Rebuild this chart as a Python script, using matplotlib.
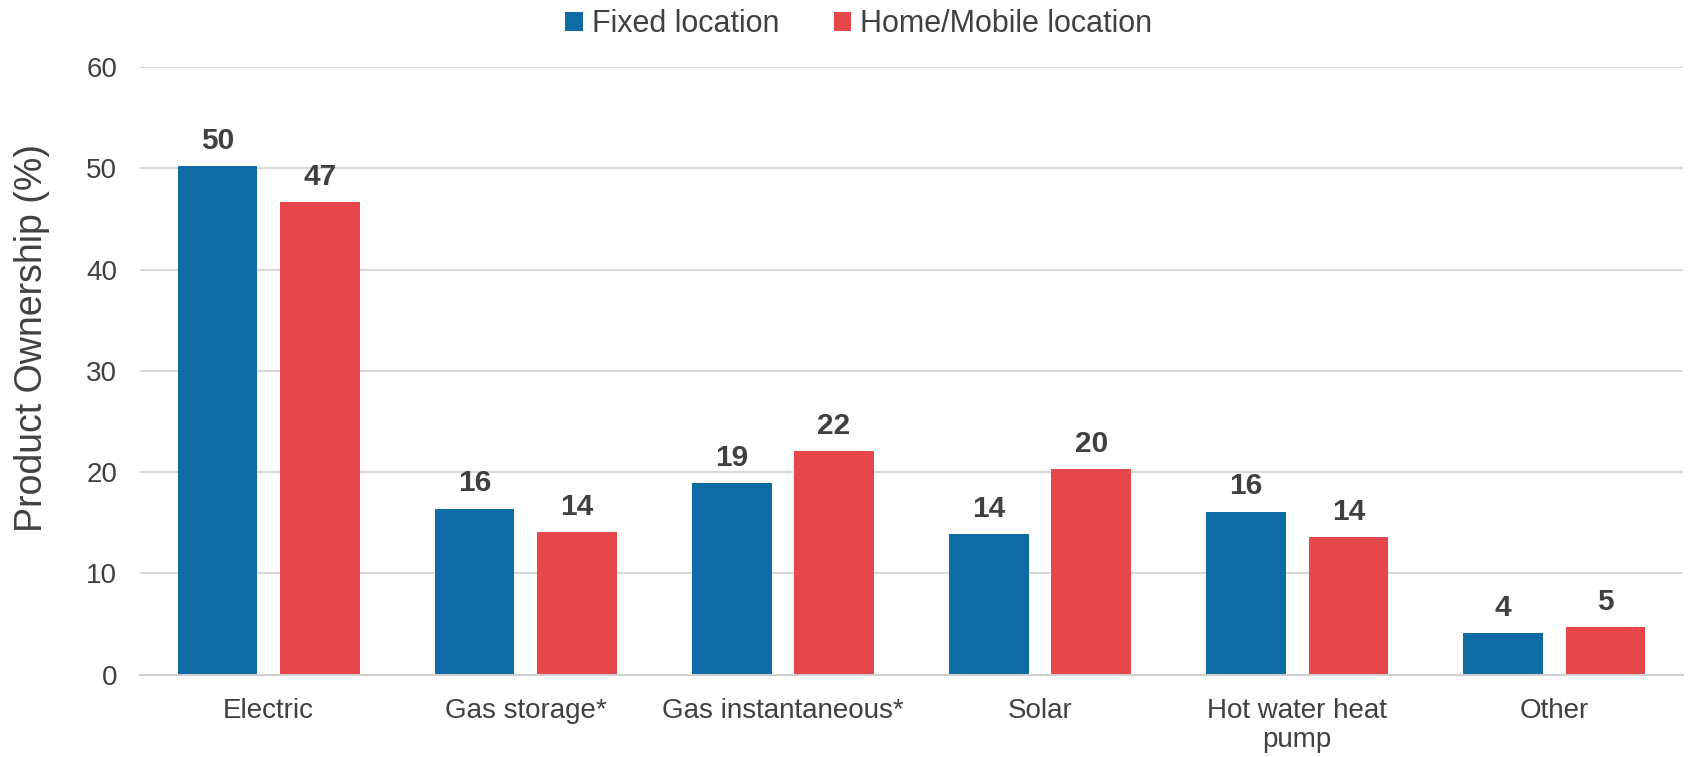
import matplotlib
matplotlib.use("Agg")
import matplotlib.pyplot as plt
import numpy as np

categories = ["Electric", "Gas storage*", "Gas instantaneous*", "Solar",
              "Hot water heat\npump", "Other"]
fixed_location = [50.2, 16.4, 18.9, 13.9, 16.1, 4.1]
home_mobile_location = [46.7, 14.1, 22.1, 20.3, 13.6, 4.7]
series_names = ["Fixed location", "Home/Mobile location"]
yticks = [0, 10, 20, 30, 40, 50, 60]

plt.rcParams['font.family'] = ['Liberation Sans', 'DejaVu Sans']
TEXT = "#404040"
BLUE = "#0E6BA3"
RED = "#E5474A"

fig = plt.figure(figsize=(16.92, 7.57), dpi=100)
ax = fig.add_axes([140/1692, 1-674.6/757, (1683-140)/1692, (674.6-67)/757])

x = np.arange(len(categories))
w = 0.31
off = 0.199
b1 = ax.bar(x - off, fixed_location, w, color=BLUE, label=series_names[0], zorder=3)
b2 = ax.bar(x + off, home_mobile_location, w, color=RED, label=series_names[1], zorder=3)

for bars, vals in ((b1, fixed_location), (b2, home_mobile_location)):
    for r, v in zip(bars, vals):
        ax.annotate(f"{round(v):d}", (r.get_x() + r.get_width()/2, v),
                    xytext=(0, 8), textcoords="offset points",
                    ha="center", va="bottom", fontsize=21.5, fontweight="bold", color=TEXT)

ax.set_xlim(-0.5, len(categories) - 0.5)
ax.set_ylim(0, 60)
ax.set_yticks(yticks)
ax.set_xticks(x)
ax.set_xticklabels(categories, fontsize=20, color=TEXT, linespacing=1.15)
ax.tick_params(axis="y", length=0, pad=16.5, labelsize=20, labelcolor=TEXT)
ax.tick_params(axis="x", length=0, pad=17)
ax.grid(axis="y", color="#D9D9D9", linewidth=1.5, zorder=0)
for s in ("top", "right", "left"):
    ax.spines[s].set_visible(False)
ax.spines["bottom"].set_color("#D0D0D0")
ax.spines["bottom"].set_linewidth(1.5)
ax.spines["bottom"].set_zorder(4)

ax.set_ylabel("Product Ownership (%)", fontsize=27, color=TEXT)
ax.yaxis.set_label_coords(-(140-50)/(1683-140), 0.554)

fig.legend(loc="center", bbox_to_anchor=(859/1692, 1-24/757), ncol=2, frameon=False,
           fontsize=22, handlelength=0.56, handleheight=0.56, handletextpad=0.3,
           columnspacing=1.8, labelcolor=TEXT)

fig.savefig("out.png", dpi=100)
